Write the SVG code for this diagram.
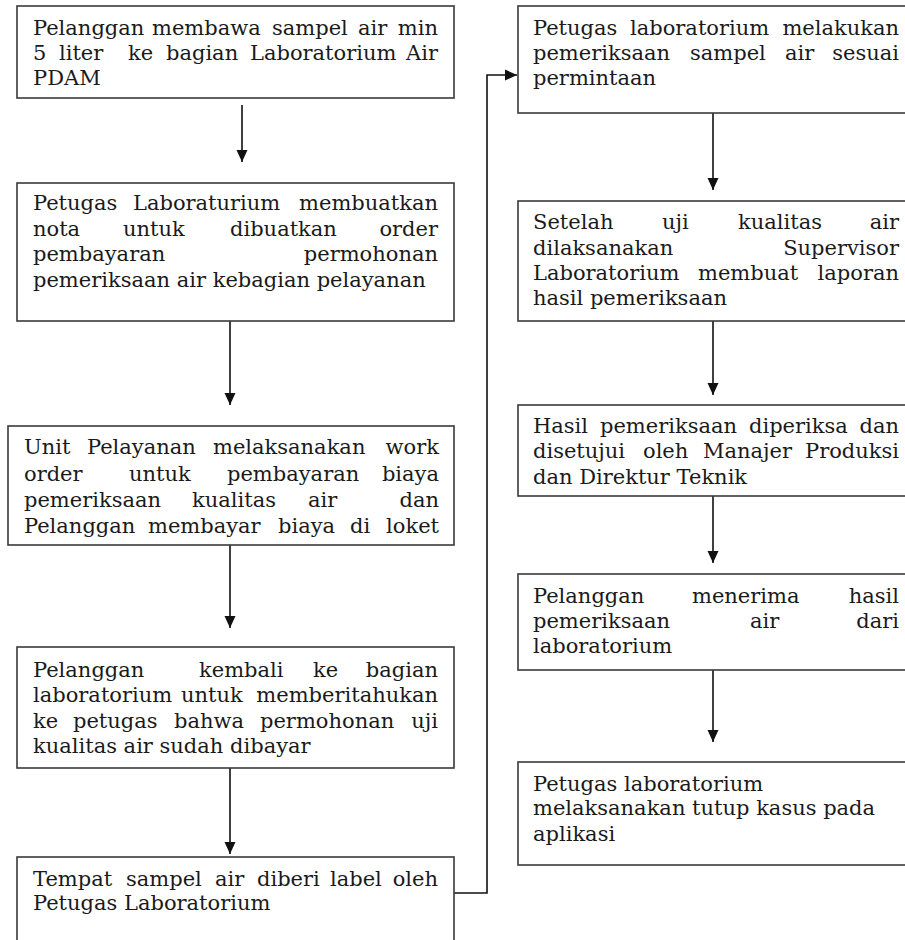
<svg xmlns="http://www.w3.org/2000/svg" width="905" height="940" viewBox="0 0 905 940">
<style>
.box{fill:#fff;stroke:#3a3a3a;stroke-width:1.6}
.t{font-family:"DejaVu Serif","Liberation Serif",serif;font-size:21px;fill:#1a1a1a}
.e{text-anchor:end}
.c{fill:none;stroke:#111;stroke-width:1.6}
</style>
<defs>
<marker id="ah" viewBox="0 0 12 12" refX="12" refY="6" markerWidth="12" markerHeight="12" markerUnits="userSpaceOnUse" orient="auto">
<path d="M0,0.5 L12,6 L0,11.5 z" fill="#111"/>
</marker>
</defs>
<rect width="905" height="940" fill="#fff"/>
<g id="connectors">
<line class="c" x1="242" y1="105" x2="242" y2="162" marker-end="url(#ah)"/>
<line class="c" x1="230" y1="321" x2="230" y2="405" marker-end="url(#ah)"/>
<line class="c" x1="230" y1="545" x2="230" y2="628" marker-end="url(#ah)"/>
<line class="c" x1="230" y1="768" x2="230" y2="854" marker-end="url(#ah)"/>
<polyline class="c" points="454,893 487,893 487,75 517,75" marker-end="url(#ah)"/>
<line class="c" x1="713" y1="113" x2="713" y2="190" marker-end="url(#ah)"/>
<line class="c" x1="713" y1="321" x2="713" y2="395" marker-end="url(#ah)"/>
<line class="c" x1="713" y1="496" x2="713" y2="563" marker-end="url(#ah)"/>
<line class="c" x1="713" y1="670" x2="713" y2="742" marker-end="url(#ah)"/>
</g>
<g id="n1">
<rect class="box" x="17" y="6" width="437" height="92"/>
<text class="t" y="35"><tspan x="33">Pelanggan</tspan><tspan x="152">membawa</tspan><tspan x="272">sampel</tspan><tspan x="358">air</tspan><tspan x="438" class="e">min</tspan></text>
<text class="t" y="60"><tspan x="33">5</tspan><tspan x="59">liter</tspan><tspan x="128">ke</tspan><tspan x="166">bagian</tspan><tspan x="250">Laboratorium</tspan><tspan x="438" class="e">Air</tspan></text>
<text class="t" x="33" y="85">PDAM</text>
</g>
<g id="n2">
<rect class="box" x="17" y="183" width="437" height="138"/>
<text class="t" y="210"><tspan x="33">Petugas</tspan><tspan x="133">Laboraturium</tspan><tspan x="438" class="e">membuatkan</tspan></text>
<text class="t" y="236"><tspan x="33">nota</tspan><tspan x="123">untuk</tspan><tspan x="230">dibuatkan</tspan><tspan x="438" class="e">order</tspan></text>
<text class="t" y="261"><tspan x="33">pembayaran</tspan><tspan x="438" class="e">permohonan</tspan></text>
<text class="t" x="33" y="287">pemeriksaan air kebagian pelayanan</text>
</g>
<g id="n3">
<rect class="box" x="8" y="426" width="446" height="119"/>
<text class="t" y="454"><tspan x="24">Unit</tspan><tspan x="87">Pelayanan</tspan><tspan x="213">melaksanakan</tspan><tspan x="439" class="e">work</tspan></text>
<text class="t" y="481"><tspan x="24">order</tspan><tspan x="129">untuk</tspan><tspan x="227">pembayaran</tspan><tspan x="439" class="e">biaya</tspan></text>
<text class="t" y="507"><tspan x="24">pemeriksaan</tspan><tspan x="192">kualitas</tspan><tspan x="308">air</tspan><tspan x="439" class="e">dan</tspan></text>
<text class="t" y="533"><tspan x="24">Pelanggan</tspan><tspan x="148">membayar</tspan><tspan x="278">biaya</tspan><tspan x="350">di</tspan><tspan x="439" class="e">loket</tspan></text>
</g>
<g id="n4">
<rect class="box" x="17" y="647" width="437" height="121"/>
<text class="t" y="677"><tspan x="33">Pelanggan</tspan><tspan x="199">kembali</tspan><tspan x="313">ke</tspan><tspan x="438" class="e">bagian</tspan></text>
<text class="t" y="702"><tspan x="33">laboratorium</tspan><tspan x="181">untuk</tspan><tspan x="438" class="e">memberitahukan</tspan></text>
<text class="t" y="728"><tspan x="33">ke</tspan><tspan x="73">petugas</tspan><tspan x="174">bahwa</tspan><tspan x="260">permohonan</tspan><tspan x="438" class="e">uji</tspan></text>
<text class="t" x="33" y="753">kualitas air sudah dibayar</text>
</g>
<g id="n5">
<rect class="box" x="17" y="857" width="437" height="100"/>
<text class="t" y="886"><tspan x="33">Tempat</tspan><tspan x="126">sampel</tspan><tspan x="215">air</tspan><tspan x="257">diberi</tspan><tspan x="330">label</tspan><tspan x="438" class="e">oleh</tspan></text>
<text class="t" x="33" y="910">Petugas Laboratorium</text>
</g>
<g id="n6">
<rect class="box" x="518" y="6" width="400" height="107"/>
<text class="t" y="35"><tspan x="533">Petugas</tspan><tspan x="630">laboratorium</tspan><tspan x="899" class="e">melakukan</tspan></text>
<text class="t" y="60"><tspan x="533">pemeriksaan</tspan><tspan x="690">sampel</tspan><tspan x="785">air</tspan><tspan x="899" class="e">sesuai</tspan></text>
<text class="t" x="533" y="85">permintaan</text>
</g>
<g id="n7">
<rect class="box" x="518" y="201" width="400" height="120"/>
<text class="t" y="229"><tspan x="533">Setelah</tspan><tspan x="662">uji</tspan><tspan x="738">kualitas</tspan><tspan x="899" class="e">air</tspan></text>
<text class="t" y="255"><tspan x="533">dilaksanakan</tspan><tspan x="899" class="e">Supervisor</tspan></text>
<text class="t" y="280"><tspan x="533">Laboratorium</tspan><tspan x="698">membuat</tspan><tspan x="899" class="e">laporan</tspan></text>
<text class="t" x="533" y="305">hasil pemeriksaan</text>
</g>
<g id="n8">
<rect class="box" x="518" y="405" width="400" height="91"/>
<text class="t" y="433"><tspan x="533">Hasil</tspan><tspan x="600">pemeriksaan</tspan><tspan x="749">diperiksa</tspan><tspan x="899" class="e">dan</tspan></text>
<text class="t" y="458"><tspan x="533">disetujui</tspan><tspan x="643">oleh</tspan><tspan x="703">Manajer</tspan><tspan x="899" class="e">Produksi</tspan></text>
<text class="t" x="533" y="484">dan Direktur Teknik</text>
</g>
<g id="n9">
<rect class="box" x="518" y="574" width="400" height="96"/>
<text class="t" y="603"><tspan x="533">Pelanggan</tspan><tspan x="692">menerima</tspan><tspan x="899" class="e">hasil</tspan></text>
<text class="t" y="628"><tspan x="533">pemeriksaan</tspan><tspan x="750">air</tspan><tspan x="899" class="e">dari</tspan></text>
<text class="t" x="533" y="653">laboratorium</text>
</g>
<g id="n10">
<rect class="box" x="518" y="762" width="400" height="103"/>
<text class="t" x="533" y="791">Petugas laboratorium</text>
<text class="t" x="533" y="815">melaksanakan tutup kasus pada</text>
<text class="t" x="533" y="841">aplikasi</text>
</g>
</svg>
